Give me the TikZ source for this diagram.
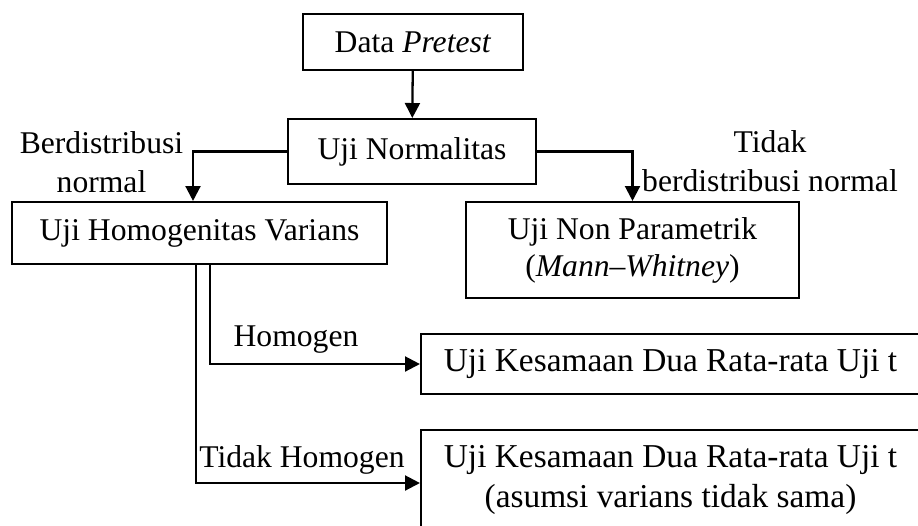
\documentclass[tikz,border=0pt]{standalone}
\usepackage{fontspec}
\setmainfont{Liberation Serif}
\usetikzlibrary{arrows.meta}

\tikzset{
  flowbox/.style={draw,line width=1.2pt,inner sep=0pt,align=center,
    font=\fontsize{18}{21}\selectfont},
  flowlbl/.style={inner sep=0pt,align=center,font=\fontsize{18}{22}\selectfont},
  flowarr/.style={line width=1.3pt,-{Triangle[length=8.5pt,width=8.5pt]}}
}

\begin{document}
\begin{tikzpicture}[x=0.02cm,y=-0.02cm]
  \useasboundingbox (0,0) rectangle (918,525);
  % boxes
  \node[flowbox,minimum width=220*0.02cm,minimum height=56*0.02cm]
    (pretest) at (413,42) {Data \textit{Pretest}};
  \node[flowbox,minimum width=248*0.02cm,minimum height=65*0.02cm]
    (normal) at (412,151.5) {Uji Normalitas};
  \node[flowbox,minimum width=375*0.02cm,minimum height=62*0.02cm]
    (homog) at (199.5,233) {Uji Homogenitas Varians};
  \node[flowbox,minimum width=333*0.02cm,minimum height=96*0.02cm]
    (nonpar) at (632.5,250) {Uji Non Parametrik\\(\textit{Mann--Whitney})};
  \node[flowbox,minimum width=499*0.02cm,minimum height=60*0.02cm,
    font=\fontsize{19}{23}\selectfont]
    (ujit) at (670.5,364) {Uji Kesamaan Dua Rata-rata Uji t};
  \node[flowbox,minimum width=499*0.02cm,minimum height=100*0.02cm,
    font=\fontsize{19}{23}\selectfont]
    (ujitb) at (670.5,480) {Uji Kesamaan Dua Rata-rata Uji t\\(asumsi varians tidak sama)};
  % labels
  \node[flowlbl] (lblnorm) at (101.5,162.5) {Berdistribusi\\normal};
  \node[flowlbl] (lbltdk) at (770,161) {Tidak\\berdistribusi normal};
  \node[flowlbl] (lblhom) at (296,340) {Homogen};
  \node[flowlbl] (lbltdkhom) at (302,460) {Tidak Homogen};
  % connectors
  \draw[flowarr] (pretest) -- (normal);
  \draw[flowarr] (normal.west) -| ([xshift=-0.13cm]homog.north);
  \draw[flowarr] (normal.east) -| (nonpar.north);
  \draw[flowarr] ([xshift=0.21cm]homog.south) |- (ujit.west);
  \draw[flowarr] ([xshift=-0.07cm]homog.south) |- ([yshift=-0.06cm]ujitb.west);
\end{tikzpicture}
\end{document}
